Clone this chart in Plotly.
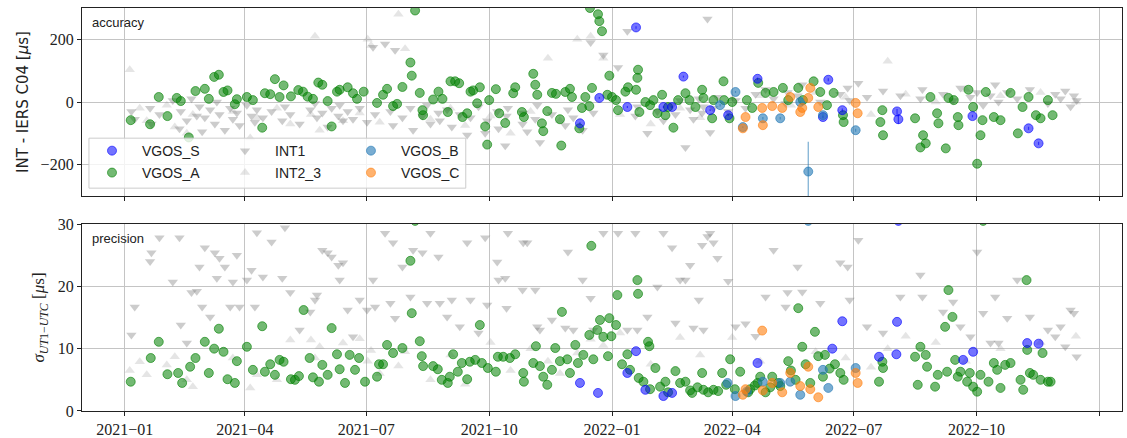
import pandas as pd
import plotly.graph_objects as go

EPOCH = "2021-01-01"  # day offsets below are counted from this date

# ---------------- VGOS_A ----------------
vgos_a_acc_day = [4.5, 19, 25.5, 32, 39, 42, 48, 53, 60, 63,
                  67, 70.5, 74, 77, 82.5, 84, 91.5, 96, 103, 105,
                  109, 112.5, 116, 119, 124.5, 130, 133.5, 137, 141, 145,
                  148, 152, 155, 159, 161, 167, 171, 174, 179, 189,
                  193.5, 196.5, 201, 204, 208, 214, 215, 217.5, 221, 223,
                  223.5, 231, 235, 238, 242, 244, 247.5, 250.5, 253, 256.5,
                  259, 261, 264, 266, 270, 271.5, 273, 278, 280.5, 285,
                  291, 292.5, 297.5, 299, 306, 307.5, 309, 312.5, 313.5, 316.5,
                  320, 323, 326, 327, 330, 333.5, 335, 340.5, 342.5, 345,
                  348, 350, 348.5, 354.5, 355.5, 357.5, 361.5, 363, 365, 368,
                  369.5, 375, 377, 383, 384, 384.5, 385.5, 390, 393.5, 396,
                  399, 402.5, 405, 407, 411, 414.5, 420, 423, 427.5, 432.5,
                  433.5, 440, 441, 448.5, 449, 453, 455, 466, 470, 474.5,
                  480, 486, 493, 497, 504.5, 508, 516, 521, 526, 531,
                  538, 538.5, 566, 567.5, 568, 592, 596, 598, 600, 603.5,
                  608.5, 609.5, 615, 617, 621, 624, 624.5, 632, 635.5, 638.5,
                  641, 642.5, 645, 651, 656, 663.5, 669, 672.5, 677, 682.5,
                  686, 691.5, 695]
vgos_a_acc = [-58, -71, 16, -45, 13, 3, -113, 35, 42, 10,
              80, 87, 32, 37, -7, 9, 16, 6, -82, 28,
              25, 73, 16, 53, 18, 38, 33, 17, 10, 62,
              55, 3, -78, 33, 39, 47, 28, 10, 33, -3,
              23, 42, -13, -6, 48, 126, 84, 292, 29, -26,
              -42, 8, 33, 10, -32, 66, 66, 60, -48, -36,
              33, 37, -4, 47, -78, -136, 6, 41, -36, -67,
              28, 47, -32, -48, 90, 55, 23, -68, -93, -29,
              29, 26, -55, -139, 32, 42, 16, -84, -19, 16,
              -13, 45, 300, 280, 258, 226, 23, 84, 16, 6,
              -26, 33, 47, 39, 77, 103, -32, 0, -10, 6,
              -36, 23, -42, -16, -82, 6, 28, 6, -16, 39,
              13, -52, 6, 66, 6, -52, 0, 6, -19, 61,
              29, 32, 45, 6, 45, 6, 66, 32, -10, 29,
              -42, -64, -64, -26, -106, -52, -145, -106, -132, 16,
              -36, -68, -148, 13, 6, -48, -74, 39, -16, -197,
              -106, -58, 32, -48, -58, 29, -100, -16, 16, -42,
              -52, 6, -42]
vgos_a_prec_day = [4.5, 19.5, 25.5, 32, 40, 43, 49, 53, 60, 63,
                   67, 70.5, 74, 77, 82.5, 84, 91.5, 96, 103, 105,
                   109, 112.5, 116, 119, 124.5, 127.5, 130.5, 134, 138.5, 141,
                   145.5, 148, 152, 155, 159, 161, 165, 168.5, 172.5, 175.5,
                   180, 189, 190.5, 193.5, 196.5, 201, 208, 214, 215, 217.5,
                   221, 222.5, 223.5, 231, 234.5, 237.5, 242, 243.5, 246, 249.5,
                   252.5, 256.5, 258.5, 262.5, 266, 267.5, 272, 278, 279.5, 283.5,
                   288.5, 292.5, 298.5, 299, 306, 308, 311, 313.5, 316.5, 320,
                   322.5, 326, 327.5, 331.5, 333.5, 337.5, 339.5, 343.5, 348, 349.5,
                   351, 354, 356, 358.5, 362, 363, 364.5, 368, 369, 372.5,
                   376.5, 378.5, 384, 384.5, 385, 388.5, 392, 393, 393.5, 397.5,
                   401, 405, 407, 412.5, 416, 420, 423.5, 425, 429, 432.5,
                   433.5, 437, 441, 444.5, 447.5, 450.5, 453.5, 457, 461, 467,
                   468.5, 472, 474, 476, 480, 483.5, 485, 489.5, 491, 497,
                   499, 502.5, 504.5, 507.5, 510, 513.5, 517, 519.5, 523, 524.5,
                   528, 532, 536, 538.5, 565, 567.5, 568, 592, 594, 596,
                   600, 601, 607, 609, 614.5, 616, 617, 620, 622, 624,
                   626, 631, 633, 635.5, 638.5, 641, 643, 647, 651, 653.5,
                   656, 659.5, 663.5, 671, 673, 675.5, 676, 678, 680.5, 686,
                   687.5, 691.5, 693.5]
vgos_a_prec = [4.7, 8.5, 11.1, 5.9, 6.1, 4.5, 7.1, 8.5, 11.1, 6.1,
               10.0, 13.2, 9.5, 5.1, 4.5, 8.0, 10.3, 6.6, 13.6, 6.3,
               7.5, 5.8, 8.2, 7.9, 5.1, 5.0, 5.6, 16.2, 8.5, 5.4,
               4.7, 7.4, 5.8, 13.3, 9.1, 6.7, 4.5, 9.0, 6.6, 8.5,
               4.7, 5.5, 7.5, 7.5, 10.6, 9.3, 10.1, 24.1, 15.7, 30.5,
               11.2, 8.8, 7.2, 7.2, 6.7, 5.0, 4.5, 5.5, 9.1, 6.3,
               7.7, 5.1, 7.9, 8.2, 13.8, 7.7, 6.9, 6.3, 8.7, 8.7,
               8.5, 9.1, 6.1, 4.7, 7.7, 10.4, 7.2, 5.5, 4.2, 6.6,
               10.1, 8.0, 15.9, 8.3, 6.1, 10.6, 7.7, 9.0, 12.2, 26.5,
               8.3, 13.0, 14.6, 11.9, 8.8, 14.9, 12.0, 13.8, 18.6, 7.5,
               9.1, 6.6, 21.0, 18.8, 5.3, 4.7, 11.1, 10.4, 3.5, 6.9,
               3.9, 4.7, 3.0, 6.4, 4.5, 4.7, 3.3, 2.9, 3.8, 6.1,
               3.4, 3.0, 3.4, 3.2, 6.1, 4.2, 8.3, 3.5, 6.3, 3.0,
               3.5, 4.1, 4.5, 5.5, 3.0, 3.8, 5.5, 4.5, 4.0, 8.0,
               6.5, 5.0, 16.5, 10.3, 7.5, 4.5, 12.7, 8.8, 5.5, 9.0,
               6.8, 7.5, 6.1, 5.0, 4.7, 7.9, 6.9, 8.7, 4.2, 10.3,
               9.0, 7.1, 3.9, 5.8, 13.5, 6.3, 19.4, 15.1, 8.2, 5.5,
               6.3, 4.7, 6.1, 3.9, 3.1, 5.8, 30.5, 4.7, 7.7, 6.6,
               3.7, 7.4, 7.7, 5.0, 3.4, 21.0, 9.8, 6.1, 5.8, 5.0,
               9.3, 4.7, 4.7]

# ---------------- VGOS_S ----------------
vgos_s_acc_day = [341, 355.5, 376.5, 383, 403.5, 410, 418.5, 438.5, 452, 474,
                  523, 527, 537.5, 578.5, 579.5, 635, 677, 684.5]
vgos_s_acc = [-68, 13, -16, 238, -16, -16, 81, -26, -42, 74,
              -48, 71, -26, -30, -55, -45, -84, -132]
vgos_s_acc_err = [3, 3, 3, 4, 3, 3, 3, 3, 3, 4, 4, 5, 5, 8, 15, 4, 5, 5]
vgos_s_prec_day = [341, 354.5, 376.5, 383, 390, 403.5, 410, 474, 530, 537.5,
                   565, 578, 578.5, 579.5, 628, 635.5, 676, 684.5]
vgos_s_prec = [4.5, 2.9, 6.1, 9.6, 3.4, 2.4, 2.9, 7.7, 10.0, 14.4,
               8.7, 9.1, 14.3, 30.5, 8.2, 9.5, 10.9, 10.8]

# ---------------- VGOS_B ----------------
vgos_b_acc_day = [446, 457.5, 463, 478, 491, 506, 512, 523, 547.5]
vgos_b_acc = [-10, 32, -80, -52, -52, 0, -222, -42, -90]
vgos_b_acc_err = [4, 3, 3, 4, 4, 3, 95, 6, 5]
vgos_b_prec_day = [451.5, 457.5, 466, 478, 491, 498.5, 506, 512, 523, 527, 547.5]
vgos_b_prec = [4.5, 2.4, 3.1, 4.7, 4.5, 4.7, 2.6, 30.5, 6.6, 3.7, 6.9]

# ---------------- VGOS_C ----------------
vgos_c_acc_day = [463, 465, 477.5, 478, 485, 492.5, 498.5, 506, 507.5, 512,
                  513.5, 519.5, 547.5, 549]
vgos_c_acc = [-84, -48, -19, -74, -13, -19, 16, -32, -19, 13,
              45, -16, -3, -36]
vgos_c_prec_day = [463, 465, 477.5, 478, 485, 492.5, 498.5, 506, 512, 513.5,
                   519.5, 547.5, 549]
vgos_c_prec = [2.6, 3.5, 12.9, 3.3, 4.5, 3.0, 6.1, 4.0, 7.1, 3.5,
               2.2, 6.1, 4.5]

# ---------------- INT1 ----------------
int1_day = [5, 7.5, 19, 20, 26, 36, 41, 42, 46.5, 50,
            54, 56, 58, 60, 64, 67.5, 69, 71, 75, 79,
            81, 84, 86, 91.5, 95, 97.5, 99, 103.5, 110, 118,
            120, 124, 131, 139, 142.5, 144, 148, 152, 155, 160,
            161, 163.5, 167, 171, 176, 181.5, 186, 187.5, 195, 199,
            201, 202.5, 208, 214, 216, 223, 226.5, 229, 235, 236,
            241.5, 245, 251, 256.5, 259, 265, 270, 271.5, 279, 280,
            285, 286, 287, 298, 298.5, 301.5, 307.5, 309, 311, 320,
            330, 332, 336, 343, 349, 351, 358.5, 369.5, 376.5, 382.5,
            384, 391.5, 399, 403.5, 410, 412.5, 416, 420, 423.5, 426,
            430, 432.5, 433.5, 436.5, 438.5, 441, 444, 452, 457.5, 465,
            472.5, 480, 486, 495, 496.5, 504, 507.5, 521, 536, 541.5,
            543, 549.5, 556, 568, 581, 596, 597.5, 613, 620.5, 626,
            633.5, 638.5, 643, 648.5, 652, 654.5, 661, 668.5, 678, 691.5,
            697, 701, 704.5, 708.5, 711, 713]
int1_acc = [-30, -55, -20, -70, -40, 5, -85, -30, -60, 10,
            -45, -15, -95, -50, -25, -70, 0, -40, -90, -20,
            -55, -35, -75, -10, -45, -65, -25, -50, -30, -60,
            -15, -40, -70, -25, -5, -50, -35, -80, -20, -45,
            -10, -60, -30, -55, -20, -65, 175, -40, 185, -30,
            -75, 165, -50, -20, -90, -45, -10, -70, -35, -60,
            -25, -80, -40, -105, -50, -15, -100, -60, -30, -85,
            -140, -45, -20, -70, -35, -95, -55, -10, -129, -40,
            -75, -25, -50, -90, 190, -35, 150, 110, 226, -45,
            -15, -100, -30, -60, -10, -40, 5, -145, -25, -55,
            10, -35, -15, 265, -97, -20, 15, -30, 5, -20,
            25, 40, 10, -5, 30, 20, 55, 0, 25, 45,
            5, 60, 15, 35, 20, 10, 40, 25, 5, 45,
            15, 30, -10, 20, 55, 0, 30, 10, 40, -5,
            25, 10, 35, -15, 20, 5]
int1_prec = [12.2, 16.7, 24.0, 25.4, 27.8, 20.7, 27.8, 13.8, 10.9, 19.0,
             19.2, 23.1, 16.7, 26.2, 15.1, 25.4, 21.3, 24.5, 23.1, 16.7,
             20.7, 25.0, 16.7, 21.0, 22.6, 16.7, 28.6, 21.5, 27.1, 21.3,
             29.4, 19.0, 13.0, 15.9, 17.8, 18.6, 25.8, 25.4, 24.7, 23.4,
             21.0, 23.8, 16.2, 11.9, 17.8, 16.2, 21.0, 16.7, 28.5, 17.3,
             27.0, 14.9, 23.1, 18.3, 25.8, 25.4, 17.3, 28.5, 24.7, 17.3,
             15.1, 17.8, 13.5, 27.0, 17.8, 12.5, 27.8, 17.0, 23.9, 21.0,
             21.3, 16.5, 28.5, 19.4, 27.0, 27.0, 19.4, 13.5, 13.0, 14.6,
             13.3, 25.5, 13.0, 21.0, 18.1, 13.0, 28.5, 28.5, 13.0, 28.5,
             13.0, 15.1, 19.9, 28.5, 26.2, 14.1, 21.0, 21.0, 23.4, 13.3,
             17.8, 26.6, 13.0, 28.0, 28.5, 27.0, 24.5, 20.8, 13.5, 14.0,
             12.0, 18.3, 25.8, 16.7, 19.0, 23.1, 19.1, 17.3, 23.8, 23.1,
             17.8, 27.4, 13.5, 12.5, 18.3, 21.8, 18.3, 15.9, 17.5, 13.5,
             11.9, 25.5, 15.7, 10.9, 18.3, 10.9, 14.9, 21.0, 15.1, 13.0,
             11.9, 13.5, 10.3, 16.2, 15.7, 8.7]

# ---------------- INT2_3 ----------------
int23_day = [3.75, 11.25, 16.5, 31.5, 37.5, 46.5, 51, 81, 94, 99,
             114, 124, 139.5, 142.5, 146, 163.5, 176, 182, 184.5, 191,
             205, 210, 229, 244, 255, 274, 289, 304, 317, 326,
             339, 349, 358.5, 371, 394, 416, 431, 455, 476, 499,
             517.5, 540, 559, 571.5, 585, 607.5, 630, 656, 686, 712.5]
int23_acc = [103, -20, -60, -10, -80, -100, -40, -30, -115, -50,
             -20, -70, -40, 210, -90, -60, -35, 200, 180, -65,
             280, 170, -55, -20, -75, -45, -100, -30, 140, -60,
             200, 210, 140, -40, -70, -20, -50, 10, 20, -10,
             30, 15, -40, 130, 25, 0, 40, 20, 30, 0]
int23_prec = [6.5, 7.9, 5.8, 7.4, 8.7, 5.0, 3.9, 8.5, 3.7, 5.8,
              5.0, 11.4, 11.4, 8.5, 10.3, 10.9, 11.6, 8.0, 9.7, 6.0,
              7.2, 9.5, 5.0, 9.0, 4.3, 11.0, 6.5, 10.0, 8.0, 6.0,
              9.3, 11.5, 10.5, 12.5, 7.5, 11.8, 9.0, 11.8, 8.0, 6.5,
              9.5, 8.5, 7.0, 10.0, 12.0, 11.0, 8.0, 10.0, 11.0, 12.0]

# ---------------- axes ----------------
x_range = ["2020-11-30", "2023-01-18"]
x_tickvals = ["2021-01-01", "2021-04-01", "2021-07-01", "2021-10-01",
              "2022-01-01", "2022-04-01", "2022-07-01", "2022-10-01", "2023-01-01"]
x_ticktext = ["2021−01", "2021−04", "2021−07", "2021−10",
              "2022−01", "2022−04", "2022−07", "2022−10", "2023−01"]
acc_tickvals = [-200, 0, 200]
acc_ticktext = ["−200", "0", "200"]
prec_tickvals = [0, 10, 20, 30]
prec_ticktext = ["0", "10", "20", "30"]


def to_dates(days):
    return pd.Timestamp(EPOCH) + pd.to_timedelta(days, unit="D")


SANS = "Liberation Sans"
SERIF = "Liberation Serif"
INK = "#222222"

styles = {
    "VGOS_S": dict(symbol="circle", fill="rgba(0,0,255,0.55)", line="rgba(0,0,255,0.6)"),
    "VGOS_A": dict(symbol="circle", fill="rgba(0,128,0,0.55)", line="rgba(0,128,0,0.6)"),
    "VGOS_B": dict(symbol="circle", fill="rgba(31,119,180,0.6)", line="rgba(31,119,180,0.6)"),
    "VGOS_C": dict(symbol="circle", fill="rgba(255,127,14,0.6)", line="rgba(255,127,14,0.6)"),
    "INT1": dict(symbol="triangle-down", fill="rgba(120,120,120,0.38)", line="rgba(128,128,128,0)"),
    "INT2_3": dict(symbol="triangle-up", fill="rgba(150,150,150,0.25)", line="rgba(150,150,150,0)"),
}

# one single-entry legend per item, laid out in a 3x2 grid (column, row)
legend_cell = {
    "VGOS_S": ("legend", 0, 0), "VGOS_A": ("legend2", 0, 1),
    "INT1": ("legend3", 1, 0), "INT2_3": ("legend4", 1, 1),
    "VGOS_B": ("legend5", 2, 0), "VGOS_C": ("legend6", 2, 1),
}
legend_col_x = [0.0, 0.1279, 0.249]
legend_row_y = [0.645, 0.5906]

fig = go.Figure()


def add(name, acc_day, acc, prec_day, prec, acc_err=None):
    st = styles[name]
    is_tri = st["symbol"] != "circle"
    marker = dict(symbol=st["symbol"], size=9, color=st["fill"],
                  line=dict(color=st["line"], width=0 if is_tri else 1))
    err = None
    if acc_err is not None:
        err = dict(type="data", array=acc_err, visible=True, color=st["line"],
                   thickness=1.2, width=0)
    lg = legend_cell[name][0]
    fig.add_trace(go.Scatter(x=to_dates(acc_day), y=acc, mode="markers", name=name,
                             marker=marker, error_y=err, legend=lg,
                             xaxis="x", yaxis="y", showlegend=True, hoverinfo="skip"))
    fig.add_trace(go.Scatter(x=to_dates(prec_day), y=prec, mode="markers", name=name,
                             marker=marker, legend=lg,
                             xaxis="x2", yaxis="y2", showlegend=False, hoverinfo="skip"))


add("INT2_3", int23_day, int23_acc, int23_day, int23_prec)
add("INT1", int1_day, int1_acc, int1_day, int1_prec)
add("VGOS_A", vgos_a_acc_day, vgos_a_acc, vgos_a_prec_day, vgos_a_prec)
add("VGOS_S", vgos_s_acc_day, vgos_s_acc, vgos_s_prec_day, vgos_s_prec, vgos_s_acc_err)
add("VGOS_B", vgos_b_acc_day, vgos_b_acc, vgos_b_prec_day, vgos_b_prec, vgos_b_acc_err)
add("VGOS_C", vgos_c_acc_day, vgos_c_acc, vgos_c_prec_day, vgos_c_prec)

GRID = "#c4c4c4"
axis_common = dict(showline=True, linecolor=INK, linewidth=1.3, mirror=True,
                   ticks="outside", ticklen=4, tickwidth=1, tickcolor=INK,
                   showgrid=True, gridcolor=GRID, gridwidth=0.8, zeroline=False,
                   tickfont=dict(family=SERIF, size=16, color=INK))

legends = {}
for name, (lg, col, row) in legend_cell.items():
    legends[lg] = dict(x=legend_col_x[col], y=legend_row_y[row], xanchor="left",
                       yanchor="middle", orientation="h", itemwidth=50,
                       bgcolor="rgba(0,0,0,0)", borderwidth=0,
                       font=dict(family=SANS, size=14, color=INK))

fig.update_layout(
    width=1127, height=438,
    margin=dict(l=82, r=5, t=8, b=27, autoexpand=False),
    paper_bgcolor="white", plot_bgcolor="white",
    xaxis=dict(domain=[0, 1], anchor="y", range=x_range, tickvals=x_tickvals,
               ticktext=x_ticktext, showticklabels=False, **axis_common),
    xaxis2=dict(domain=[0, 1], anchor="y2", range=x_range, tickvals=x_tickvals,
                ticktext=x_ticktext, matches="x", **axis_common),
    yaxis=dict(domain=[0.5335, 1], anchor="x", range=[-300, 300], tickvals=acc_tickvals,
               ticktext=acc_ticktext,
               title=dict(text="INT - IERS C04 [<i>μ</i>s]",
                          font=dict(family="DejaVu Sans", size=15, color=INK), standoff=8),
               **axis_common),
    yaxis2=dict(domain=[0, 0.464], anchor="x2", range=[0, 30], tickvals=prec_tickvals,
                ticktext=prec_ticktext,
                title=dict(text="<i>σ</i><sub><i>UT</i>1−<i>UTC</i></sub> [<i>μ</i>s]",
                           font=dict(family=SERIF, size=17, color=INK), standoff=8),
                **axis_common),
    shapes=[dict(type="rect", xref="paper", yref="paper", x0=0.0067, x1=0.369,
                 y0=0.553, y1=0.677, fillcolor="rgba(255,255,255,0.8)",
                 line=dict(color="#cccccc", width=1), layer="above")],
    annotations=[
        dict(text="accuracy", xref="x domain", yref="y domain", x=0.008, y=0.975,
             xanchor="left", yanchor="top", showarrow=False,
             font=dict(family=SANS, size=13, color=INK)),
        dict(text="precision", xref="x2 domain", yref="y2 domain", x=0.008, y=0.975,
             xanchor="left", yanchor="top", showarrow=False,
             font=dict(family=SANS, size=13, color=INK)),
    ],
    **legends,
)

# remove the browser's default page margin so the figure sits at the window origin
fig.write_html("out.html", config={"displayModeBar": False},
               post_script="document.body.style.margin='0';document.body.style.overflow='hidden';")
